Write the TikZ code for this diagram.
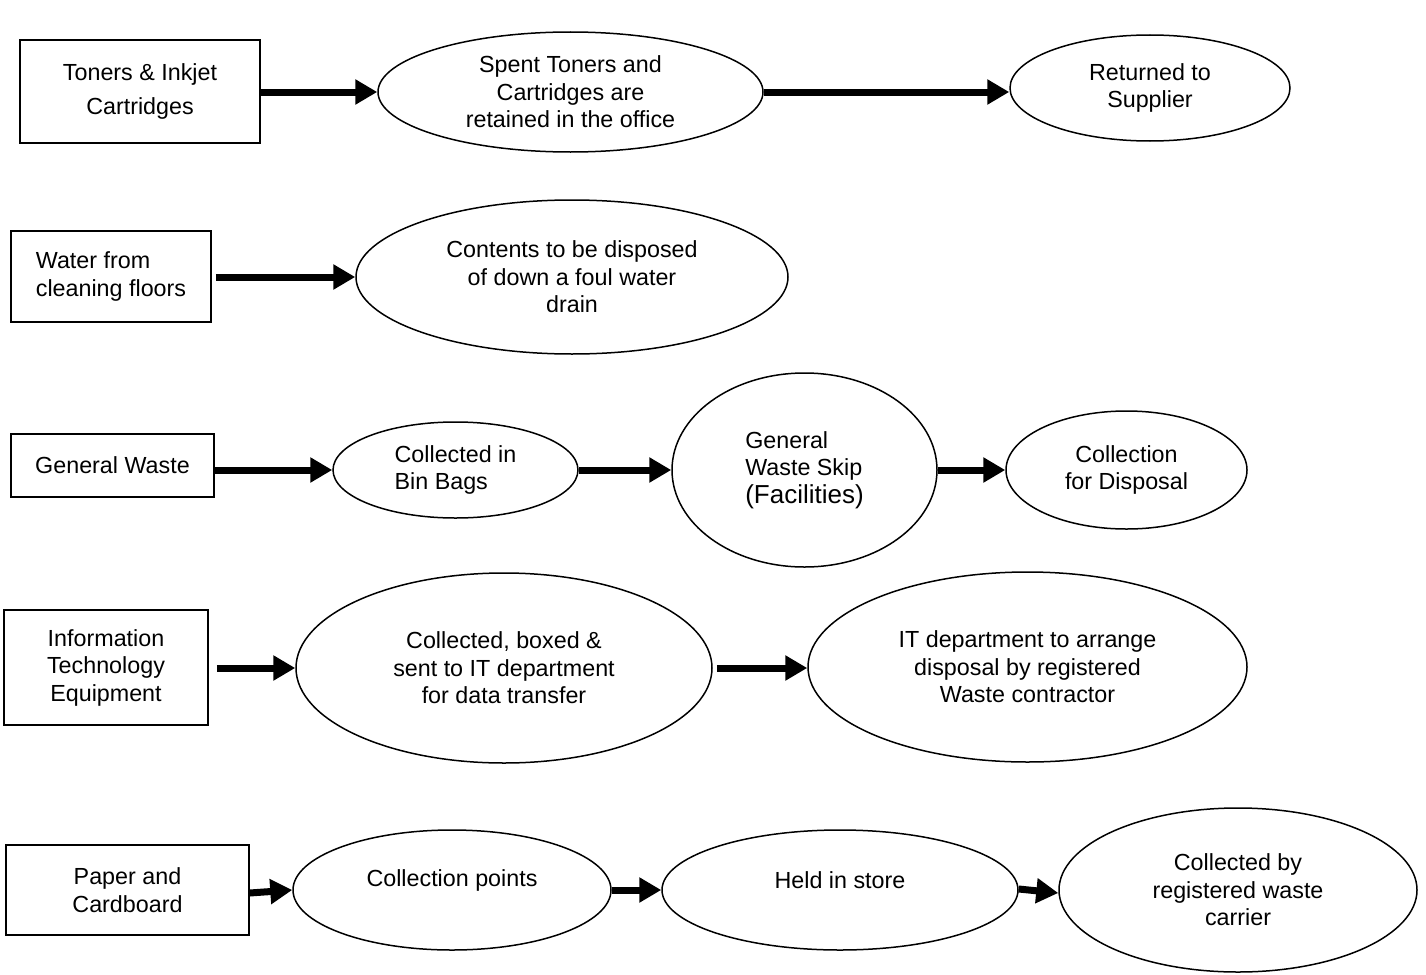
\documentclass[tikz,border=0pt]{standalone}
\usepackage{fontspec}
\setmainfont{Liberation Sans}
\usetikzlibrary{shapes.geometric,arrows.meta}
\begin{document}
\begin{tikzpicture}[x=1pt,y=-1pt,
  txt/.style={font=\fontsize{23.3}{27.5}\selectfont, align=center},
  box/.style={draw, line width=1.5pt, inner sep=0pt, txt},
  ell/.style={draw, ellipse, line width=1.5pt, inner sep=0pt, txt},
  flow/.style={line width=7pt, -{Triangle[length=22pt,width=24pt]}, shorten >=0pt}
]
\useasboundingbox (0,0) rectangle (1426,974);
% Row 1
\node[box, minimum width=240pt, minimum height=103pt, font=\fontsize{23.3}{34}\selectfont] (a1) at (140,91.5) {Toners \& Inkjet\\Cartridges};
\node[ell, minimum width=385pt, minimum height=120pt] (b1) at (570.5,92) {Spent Toners and\\Cartridges are\\retained in the office};
\node[ell, minimum width=280pt, minimum height=106pt] (c1) at (1150,88) {Returned to\\Supplier};
\draw[flow] (a1.east |- 0,92) -- (b1.west);
\draw[flow] (b1.east) -- (c1.west |- 0,92);
% Row 2
\node[box, minimum width=200pt, minimum height=91pt, align=left] (a2) at (111,276.5) {Water from\\cleaning floors};
\node[ell, minimum width=432pt, minimum height=154pt] (b2) at (572,277) {Contents to be disposed\\of down a foul water\\drain};
\draw[flow] (a2.east |- 0,277) ++(4,0) -- (b2.west);
% Row 3
\node[box, minimum width=203pt, minimum height=63pt] (a3) at (112.5,465.5) {General Waste};
\node[ell, minimum width=245pt, minimum height=96pt, align=left] (b3) at (455.5,470) {Collected in\\Bin Bags};
\node[ell, minimum width=265pt, minimum height=194pt, align=left] (c3) at (804.5,470) {General\\Waste Skip\\{\fontsize{26}{30}\selectfont (Facilities)}};
\node[ell, minimum width=241pt, minimum height=118pt] (d3) at (1126.5,470) {Collection\\for Disposal};
\draw[flow] (a3.east |- 0,470) -- (b3.west);
\draw[flow] (b3.east) -- (c3.west);
\draw[flow] (c3.east) -- (d3.west);
% Row 4
\node[box, minimum width=204pt, minimum height=115pt] (a4) at (106,667.5) {Information\\Technology\\Equipment};
\node[ell, minimum width=416pt, minimum height=190pt] (b4) at (504,668) {Collected, boxed \&\\sent to IT department\\for data transfer};
\node[ell, minimum width=439pt, minimum height=190pt] (c4) at (1027.5,667) {IT department to arrange\\disposal by registered\\Waste contractor};
\draw[flow] (a4.east |- 0,668) ++(8,0) -- (b4.west);
\draw[flow] (b4.east) ++(4,0) -- (c4.west |- 0,668);
% Row 5
\node[box, minimum width=243pt, minimum height=90pt] (a5) at (127.5,890) {Paper and\\Cardboard};
\node[ell, minimum width=318pt, minimum height=120pt] (b5) at (452,890) {};
\node[txt] (b5t) at (452,880) {Collection points};
\node[ell, minimum width=356pt, minimum height=120pt] (c5) at (840,890) {};
\node[txt] (c5t) at (840,880) {Held in store};
\node[ell, minimum width=358pt, minimum height=164pt] (d5) at (1238,890) {Collected by\\registered waste\\carrier};
\draw[flow] (a5.east |- 0,893) -- (b5.west);
\draw[flow] (b5.east) -- (c5.west);
\draw[flow] (c5.east |- 0,889) -- (d5.west |- 0,893);
\end{tikzpicture}
\end{document}
